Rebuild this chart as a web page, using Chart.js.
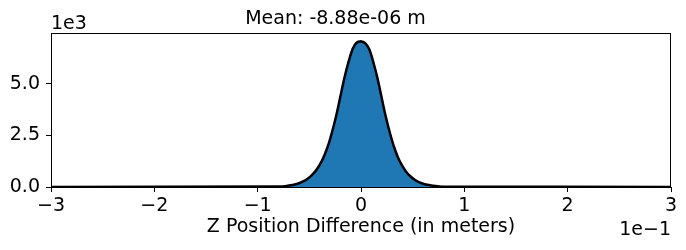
<!DOCTYPE html>
<html>
<head>
<meta charset="utf-8">
<script src="https://cdn.jsdelivr.net/npm/chart.js@4/dist/chart.umd.min.js"></script>
<style>
  html, body { margin: 0; padding: 0; background: #fff; }
  canvas { display: block; }
</style>
</head>
<body>
<canvas id="histChart" width="686" height="250"></canvas>
<script>
// Histogram bins, x in units of 1e-1 m
const binStart = -0.80;
const binWidth = 0.02;
const histCounts = [
  20, 25, 30, 40, 55, 65, 85, 105, 130, 150,
  185, 225, 275, 335, 395, 470, 560, 660, 775, 915,
  1075, 1265, 1475, 1720, 2000, 2330, 2680, 3070, 3470, 3930,
  4390, 4850, 5310, 5710, 6090, 6450, 6730, 6910, 7040, 7090,
  7120,
  7070, 7000, 6870, 6690, 6400, 6050, 5680, 5270, 4820, 4340,
  3880, 3420, 3020, 2630, 2280, 1950, 1670, 1420, 1210, 1020,
  860, 725, 610, 515, 430, 360, 300, 245, 200, 160,
  130, 110, 90, 70, 55, 45, 35, 25, 20, 15
];

// Black curve over the histogram
const fitX = [
  -3.00,
  -0.80, -0.76, -0.72, -0.68, -0.64, -0.60, -0.56, -0.52, -0.48, -0.44,
  -0.40, -0.36, -0.32, -0.28, -0.24, -0.20, -0.16, -0.12, -0.08, -0.04,
  0.00,
  0.04, 0.08, 0.12, 0.16, 0.20, 0.24, 0.28, 0.32, 0.36, 0.40,
  0.44, 0.48, 0.52, 0.56, 0.60, 0.64, 0.68, 0.72, 0.76, 0.80,
  3.00
];
const fitCounts = [
  0,
  20, 30, 50, 80, 125, 180, 270, 390, 555, 770,
  1070, 1470, 1990, 2670, 3460, 4380, 5300, 6080, 6710, 7010,
  7060,
  6980, 6680, 6040, 5260, 4330, 3410, 2620, 1940, 1410, 1020,
  720, 510, 355, 240, 160, 105, 70, 45, 25, 15,
  0
];

const xTicks = [-3, -2, -1, 0, 1, 2, 3];
const yTicks = [0, 2500, 5000];
const titleText = 'Mean: -8.88e-06 m';
const xLabel = 'Z Position Difference (in meters)';

const FONT = "'DejaVu Sans', sans-serif";

const histPoints = histCounts.map((c, i) => ({ x: binStart + i * binWidth, y: c }));
const fitPoints = fitCounts.map((c, i) => ({ x: fitX[i], y: c }));

// frame + offset texts (1e3, 1e-1) like matplotlib
const framePlugin = {
  id: 'frame',
  afterDraw(chart) {
    const { ctx, chartArea } = chart;
    ctx.save();
    ctx.strokeStyle = '#000';
    ctx.lineWidth = 1;
    ctx.strokeRect(chartArea.left + 0.5, chartArea.top + 0.5,
      chartArea.right - chartArea.left - 1, chartArea.bottom - chartArea.top);
    ctx.fillStyle = '#000';
    ctx.font = '19px ' + FONT;
    ctx.textBaseline = 'alphabetic';
    ctx.textAlign = 'left';
    ctx.fillText('1e3', chartArea.left, 29);
    ctx.textAlign = 'right';
    ctx.fillText('1e\u22121', chartArea.right, 235);
    ctx.restore();
  }
};

new Chart(document.getElementById('histChart'), {
  type: 'line',
  data: {
    datasets: [{
      data: fitPoints,
      borderColor: '#000',
      borderWidth: 2.5,
      pointRadius: 0,
      tension: 0.3,
      fill: false,
      order: 0
    }, {
      data: histPoints,
      borderWidth: 0,
      backgroundColor: '#1f77b4',
      pointRadius: 0,
      stepped: 'middle',
      fill: 'origin',
      order: 1
    }]
  },
  options: {
    responsive: false,
    animation: false,
    devicePixelRatio: 1,
    layout: { padding: { left: 0, right: 15, top: 0, bottom: 0 } },
    plugins: {
      legend: { display: false },
      tooltip: { enabled: false },
      title: {
        display: true,
        text: titleText,
        color: '#000',
        font: { family: FONT, size: 19, weight: 'normal' },
        padding: { top: 8, bottom: 2.2 }
      }
    },
    scales: {
      x: {
        type: 'linear',
        min: -3,
        max: 3,
        afterBuildTicks: s => { s.ticks = xTicks.map(v => ({ value: v })); },
        afterFit: s => { s.height = 63; },
        grid: { display: true, drawOnChartArea: false, drawTicks: true, tickLength: 5, color: '#000' },
        border: { display: true, color: '#000', width: 1 },
        ticks: {
          color: '#000',
          padding: 3,
          maxRotation: 0,
          font: { family: FONT, size: 19 },
          callback: v => (v < 0 ? '\u2212' + Math.abs(v) : String(v))
        },
        title: {
          display: true,
          text: xLabel,
          color: '#000',
          font: { family: FONT, size: 19 },
          padding: { top: 0, bottom: 12 }
        }
      },
      y: {
        min: 0,
        max: 7470,
        afterBuildTicks: s => { s.ticks = yTicks.map(v => ({ value: v })); },
        afterFit: s => { s.width = 51; },
        grid: { display: true, drawOnChartArea: false, drawTicks: true, tickLength: 5, color: '#000' },
        border: { display: true, color: '#000', width: 1 },
        ticks: {
          color: '#000',
          padding: 6,
          font: { family: FONT, size: 19 },
          callback: v => (v / 1000).toFixed(1)
        }
      }
    }
  },
  plugins: [framePlugin]
});
</script>
</body>
</html>
